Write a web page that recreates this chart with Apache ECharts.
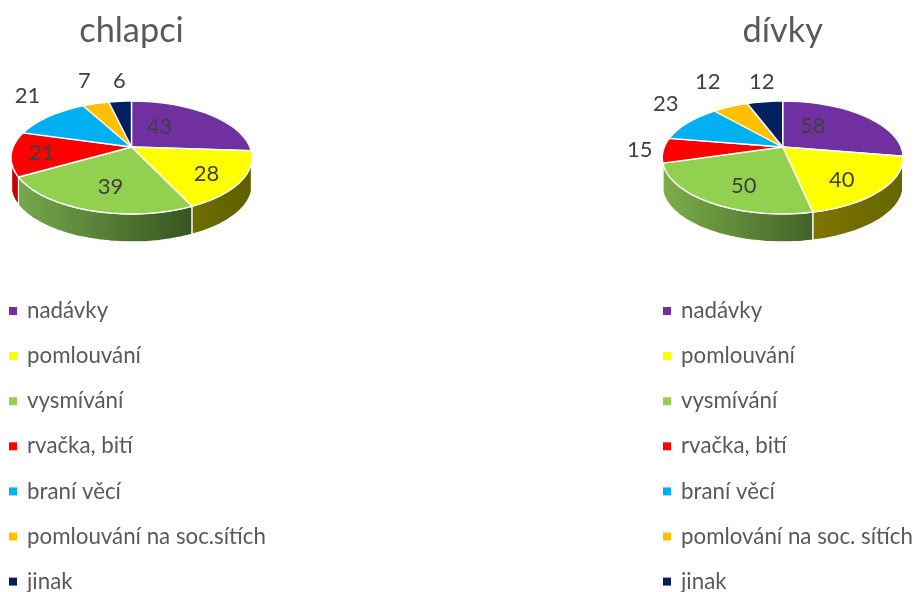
<!DOCTYPE html>
<html>
<head>
<meta charset="utf-8">
<script src="https://cdn.jsdelivr.net/npm/echarts@6/dist/echarts.min.js"></script>
<style>html,body{margin:0;padding:0;background:#fff}#c{width:915px;height:592px}</style>
</head>
<body>
<div id="c"></div>
<script>
// ---- data ----
const boysTitle = 'chlapci';
const girlsTitle = 'dívky';
const boysCategories = ['nadávky','pomlouvání','vysmívání','rvačka, bití','braní věcí','pomlouvání na soc.sítích','jinak'];
const girlsCategories = ['nadávky','pomlouvání','vysmívání','rvačka, bití','braní věcí','pomlování na soc. sítích','jinak'];
const boysValues = [43,28,39,21,21,7,6];
const girlsValues = [58,40,50,15,23,12,12];

// ---- style and layout ----
const sliceColors = ['#7030A0','#FFFF00','#92D050','#FF0000','#00B0F0','#FFC000','#002060'];
const boysWalls = [['#7030A0','#7030A0'],['#6E6E00','#5F5F00'],['#76A84A','#365420'],['#C80000','#C80000'],['#00B0F0','#00B0F0'],['#FFC000','#FFC000'],['#002060','#002060']];
const girlsWalls = [['#7030A0','#7030A0'],['#7F7400','#666600'],['#7DAE4A','#426329'],['#C80000','#C80000'],['#00B0F0','#00B0F0'],['#FFC000','#FFC000'],['#002060','#002060']];
const boysLabelOffsets = [[28,-20],[75,27],[-21,40],[-90,6],[-104,-51],[-47,-66],[-12,-66]];
const girlsLabelOffsets = [[30,-21],[59,33],[-39,39],[-143,3],[-117,-43],[-75,-65],[-21,-65]];
const labelColor = '#404040', labelSize = 22, legendColor = '#595959';
const tilt = 0.186, radiusX = 118.4, radiusY = 54.5, wallDepth = 28, arcSteps = 72;
const frontStart = Math.acos(-0.28), frontEnd = 2 * Math.PI - frontStart;

function project(pie, angle, r) {
  const u = Math.sin(angle) * r, v = Math.cos(angle) * r, w = 1 + tilt * v;
  return [pie.cx + radiusX * u / w, pie.cy - radiusY * v / w];
}
function arc(pie, a0, a1) {
  const n = Math.max(2, Math.ceil((a1 - a0) / (2 * Math.PI) * arcSteps));
  const pts = [];
  for (let i = 0; i <= n; i++) pts.push(project(pie, a0 + (a1 - a0) * i / n, 1));
  return pts;
}
function sliceAngles(values) {
  const total = values.reduce((a, b) => a + b, 0);
  let cum = 0;
  return values.map(v => { const a0 = cum / total * 2 * Math.PI; cum += v; return [a0, cum / total * 2 * Math.PI]; });
}
function pieSeries(pie) {
  const angles = sliceAngles(pie.values);
  const wallSeries = {
    type: 'custom', name: 'wall-' + pie.title, coordinateSystem: 'none', silent: true, z: 1,
    data: pie.values.map(v => [v]),
    renderItem(params) {
      const i = params.dataIndex;
      const a0 = Math.max(angles[i][0], frontStart), a1 = Math.min(angles[i][1], frontEnd);
      if (a1 <= a0) return { type: 'group', children: [] };
      const top = arc(pie, a0, a1);
      const bottom = top.map(p => [p[0], p[1] + wallDepth]).reverse();
      const xs = top.map(p => p[0]);
      return {
        type: 'polygon',
        shape: { points: top.concat(bottom) },
        style: {
          fill: { type: 'linear', x: Math.min(...xs), y: 0, x2: Math.max(...xs), y2: 0, global: true,
            colorStops: [{ offset: 0, color: pie.walls[i][0] }, { offset: 1, color: pie.walls[i][1] }] },
          stroke: '#fff', lineWidth: 1.2, lineJoin: 'round'
        }
      };
    }
  };
  const topSeries = pie.categories.map((name, i) => ({
    type: 'custom', name, coordinateSystem: 'none', silent: true, z: 2,
    itemStyle: { color: sliceColors[i] },
    data: [[pie.values[i]]],
    renderItem(params, api) {
      const [a0, a1] = angles[i];
      const pts = [[pie.cx, pie.cy]].concat(arc(pie, a0, a1));
      return {
        type: 'group',
        children: [
          { type: 'polygon', shape: { points: pts },
            style: { fill: sliceColors[i], stroke: '#fff', lineWidth: 1.4, lineJoin: 'round' } },
          { type: 'text', z2: 100, x: pie.cx + pie.labels[i][0], y: pie.cy + pie.labels[i][1],
            style: { text: String(api.value(0)), fill: labelColor, fontFamily: 'Lato', fontSize: labelSize,
              align: 'center', verticalAlign: 'middle' } }
        ]
      };
    }
  }));
  return [wallSeries].concat(topSeries);
}

const boysPie = { title: boysTitle, cx: 131.5, cy: 147, values: boysValues, categories: boysCategories, walls: boysWalls, labels: boysLabelOffsets };
const girlsPie = { title: girlsTitle, cx: 782.7, cy: 147, values: girlsValues, categories: girlsCategories, walls: girlsWalls, labels: girlsLabelOffsets };

function legendFor(names, left) {
  return {
    orient: 'vertical', left, top: 300, height: 400, selectedMode: false,
    icon: 'rect', itemWidth: 8, itemHeight: 8, itemGap: 23.1,
    textStyle: { color: legendColor, fontFamily: 'Lato', fontSize: 22.3, padding: [0, 0, 0, 5] },
    data: names.map((name, i) => ({ name, itemStyle: { color: sliceColors[i] } })),
    padding: 0
  };
}

const chart = echarts.init(document.getElementById('c'), null, { renderer: 'canvas' });
chart.setOption({
  animation: false,
  backgroundColor: '#fff',
  title: [
    { text: boysTitle, left: 131.5, top: 14, textAlign: 'center', padding: 0, textStyle: { color: legendColor, fontFamily: 'Lato', fontWeight: 'normal', fontSize: 34.3 } },
    { text: girlsTitle, left: 782.7, top: 14, textAlign: 'center', padding: 0, textStyle: { color: legendColor, fontFamily: 'Lato', fontWeight: 'normal', fontSize: 34.3 } }
  ],
  legend: [legendFor(boysCategories, 9), legendFor(girlsCategories, 663)],
  series: pieSeries(boysPie).concat(pieSeries(girlsPie))
});
</script>
</body>
</html>
